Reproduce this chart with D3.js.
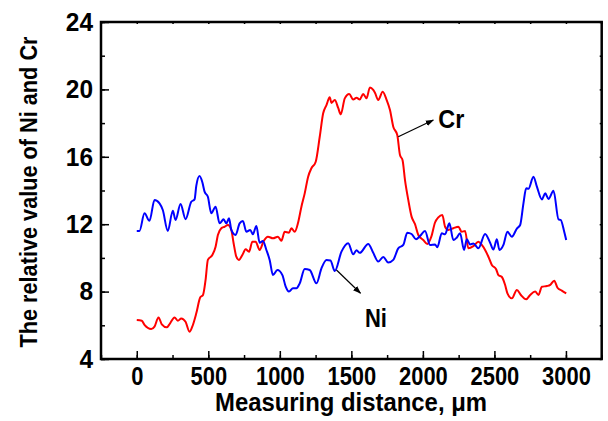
<!DOCTYPE html>
<html>
<head>
<meta charset="utf-8">
<script src="https://cdn.jsdelivr.net/npm/d3@7"></script>
<style>
  body { margin: 0; background: #fff; }
  text { font-family: "Liberation Sans", Arial, sans-serif; font-weight: bold; fill: #000; }
</style>
</head>
<body>
<svg width="608" height="421"></svg>
<script>
// Cr profile (distance in um, relative value)
const crDist = [0,35,54,101,124,152,175,210,233,264,287,311,341,369,388,416,444,463,481,497,528,551,567,591,614,637,661,677,696,714,738,761,785,808,831,859,887,917,952,987,1011,1034,1064,1081,1104,1128,1151,1174,1198,1221,1251,1279,1303,1326,1349,1361,1384,1408,1426,1454,1485,1513,1536,1559,1583,1606,1630,1653,1665,1688,1719,1747,1770,1793,1821,1840,1858,1875,1898,1921,1945,1968,2003,2031,2059,2085,2108,2136,2155,2178,2213,2248,2271,2295,2318,2353,2388,2412,2435,2458,2482,2512,2528,2551,2575,2591,2622,2657,2685,2722,2750,2785,2808,2832,2867,2890,2918,2941,2971,3002];
const crVal = [6.31,6.27,6.02,5.78,5.92,6.47,6.06,5.88,6.12,6.47,6.27,6.41,6.21,5.62,5.92,6.71,7.66,7.8,8.69,9.88,10.17,10.66,11.36,11.76,11.85,11.95,11.66,10.87,10.07,9.88,10.17,10.51,10.37,10.96,10.96,10.47,11.0,11.26,11.16,11.26,11.02,11.55,11.5,11.76,11.55,12.1,13.04,13.83,14.82,15.32,15.71,17.19,18.58,19.07,19.53,19.2,19.37,18.9,18.52,19.47,19.73,19.4,19.5,19.4,19.73,19.47,20.12,19.97,19.8,19.37,19.86,19.37,18.78,17.79,17.29,16.1,15.8,14.62,13.44,12.45,12.0,11.36,11.06,10.83,11.26,12.1,12.41,12.55,11.85,11.66,11.76,11.85,11.55,11.6,10.57,10.7,10.96,10.77,10.47,10.07,9.58,9.33,8.98,8.88,8.39,7.9,7.6,8.1,7.8,7.54,7.8,8.0,7.8,8.29,8.33,8.4,8.65,8.23,8.06,7.9];

// Ni profile
const niDist = [0,19,54,89,124,159,182,217,252,271,306,341,381,404,416,439,458,474,497,521,551,579,607,626,645,661,691,719,742,766,793,812,836,859,882,906,929,952,983,1018,1041,1064,1092,1116,1139,1174,1209,1256,1291,1326,1354,1384,1431,1478,1513,1536,1559,1618,1653,1688,1723,1758,1793,1828,1863,1891,1921,1952,1980,2015,2050,2085,2101,2132,2155,2185,2213,2236,2260,2288,2307,2330,2353,2388,2435,2470,2493,2517,2535,2563,2591,2622,2657,2680,2703,2722,2738,2773,2797,2832,2855,2878,2913,2948,2964,2988,3002];
const niVal = [11.6,11.6,12.65,12.2,13.44,13.24,12.84,11.6,12.8,12.25,13.2,12.3,13.33,13.47,14.27,14.86,14.5,13.93,13.63,12.65,13.04,12.05,12.29,12.05,12.35,11.66,11.36,12.05,12.19,11.55,11.66,11.4,11.9,10.9,11.0,10.47,9.88,8.98,9.28,8.98,8.29,8.0,8.2,8.2,8.49,9.34,9.28,8.49,9.38,9.88,9.85,9.22,10.37,10.87,10.21,10.45,10.3,10.83,10.3,9.78,10.06,9.72,9.88,10.57,10.77,11.5,11.42,11.1,11.3,11.6,10.77,10.8,10.63,11.46,11.4,12.05,11.06,11.2,11.46,10.47,11.1,10.8,10.85,10.57,11.42,10.9,10.5,11.1,10.47,10.77,11.55,11.26,11.74,11.95,13.24,14.13,14.1,14.82,14.23,13.47,13.83,13.5,13.99,12.29,12.25,11.55,11.06];

const xTicks = [0, 500, 1000, 1500, 2000, 2500, 3000];
const yTicks = [4, 8, 12, 16, 20, 24];

const svg = d3.select("svg");
const mLeft = 101, mRight = 601.7, mTop = 22, mBottom = 359;

const x = d3.scaleLinear().domain([-250, 3250]).range([mLeft, mRight]);
const y = d3.scaleLinear().domain([4, 24]).range([mBottom, mTop]);

svg.append("defs").append("marker")
  .attr("id", "arr")
  .attr("viewBox", "0 0 10 10")
  .attr("refX", 9).attr("refY", 5)
  .attr("markerWidth", 7).attr("markerHeight", 7)
  .attr("orient", "auto")
  .append("path").attr("d", "M0,1.5 L10,5 L0,8.5 Z").attr("fill", "#000");

// minor ticks
const minorX = d3.range(-250, 3251, 250);
const minorY = d3.range(4, 24.1, 2);

svg.append("g")
  .attr("transform", "translate(0," + mBottom + ")")
  .call(d3.axisBottom(x).tickValues(minorX).tickSize(-4).tickFormat(""));
svg.append("g")
  .attr("transform", "translate(" + mLeft + ",0)")
  .call(d3.axisLeft(y).tickValues(minorY).tickSize(-4).tickFormat(""));
svg.append("g")
  .attr("transform", "translate(0," + mTop + ")")
  .call(d3.axisTop(x).tickValues(minorX).tickSize(-2).tickFormat(""));
svg.append("g")
  .attr("transform", "translate(" + mRight + ",0)")
  .call(d3.axisRight(y).tickValues(minorY).tickSize(-2).tickFormat(""));

const xAxis = svg.append("g")
  .attr("transform", "translate(0," + mBottom + ")")
  .call(d3.axisBottom(x).tickValues(xTicks).tickSize(-8).tickPadding(8).tickFormat(d3.format("d")));
const yAxis = svg.append("g")
  .attr("transform", "translate(" + mLeft + ",0)")
  .call(d3.axisLeft(y).tickValues(yTicks).tickSize(-8).tickPadding(8));

svg.selectAll(".domain").remove();
svg.selectAll(".tick line").attr("stroke", "#000").attr("stroke-width", 1.5);
xAxis.selectAll("text").style("font-size", "25px")
  .attr("textLength", d => String(d).length * 12.2).attr("lengthAdjust", "spacingAndGlyphs");
yAxis.selectAll("text").style("font-size", "26px")
  .attr("textLength", d => String(d).length * 13.6).attr("lengthAdjust", "spacingAndGlyphs");

// frame
svg.append("rect")
  .attr("x", mLeft).attr("y", mTop)
  .attr("width", mRight - mLeft).attr("height", mBottom - mTop)
  .attr("fill", "none").attr("stroke", "#000").attr("stroke-width", 2.5);

const line = d3.line()
  .x(d => x(d[0]))
  .y(d => y(d[1]))
  .curve(d3.curveMonotoneX);

svg.append("path")
  .datum(crDist.map((d, i) => [d, crVal[i]]))
  .attr("fill", "none").attr("stroke", "#ff0000").attr("stroke-width", 2)
  .attr("d", line);

svg.append("path")
  .datum(niDist.map((d, i) => [d, niVal[i]]))
  .attr("fill", "none").attr("stroke", "#0000ff").attr("stroke-width", 2)
  .attr("d", line);

// labels with arrows
svg.append("line")
  .attr("x1", x(1828)).attr("y1", y(17.19))
  .attr("x2", x(2073)).attr("y2", y(18.18))
  .attr("stroke", "#000").attr("stroke-width", 1.2)
  .attr("marker-end", "url(#arr)");
svg.append("text")
  .attr("x", x(2108)).attr("y", y(17.69))
  .style("font-size", "25px")
  .attr("textLength", 26).attr("lengthAdjust", "spacingAndGlyphs")
  .text("Cr");

svg.append("line")
  .attr("x1", x(1396)).attr("y1", y(9.28))
  .attr("x2", x(1564)).attr("y2", y(7.9))
  .attr("stroke", "#000").attr("stroke-width", 1.2)
  .attr("marker-end", "url(#arr)");
svg.append("text")
  .attr("x", x(1595)).attr("y", y(5.92))
  .style("font-size", "26px")
  .attr("textLength", 22).attr("lengthAdjust", "spacingAndGlyphs")
  .text("Ni");

// axis titles
svg.append("text")
  .attr("x", 351).attr("y", 411)
  .attr("text-anchor", "middle")
  .style("font-size", "25px")
  .attr("textLength", 272).attr("lengthAdjust", "spacingAndGlyphs")
  .text("Measuring distance, μm");

svg.append("text")
  .attr("transform", "translate(37,192) rotate(-90)")
  .attr("text-anchor", "middle")
  .style("font-size", "24px")
  .attr("textLength", 311).attr("lengthAdjust", "spacingAndGlyphs")
  .text("The relative value of Ni and Cr");
</script>
</body>
</html>
